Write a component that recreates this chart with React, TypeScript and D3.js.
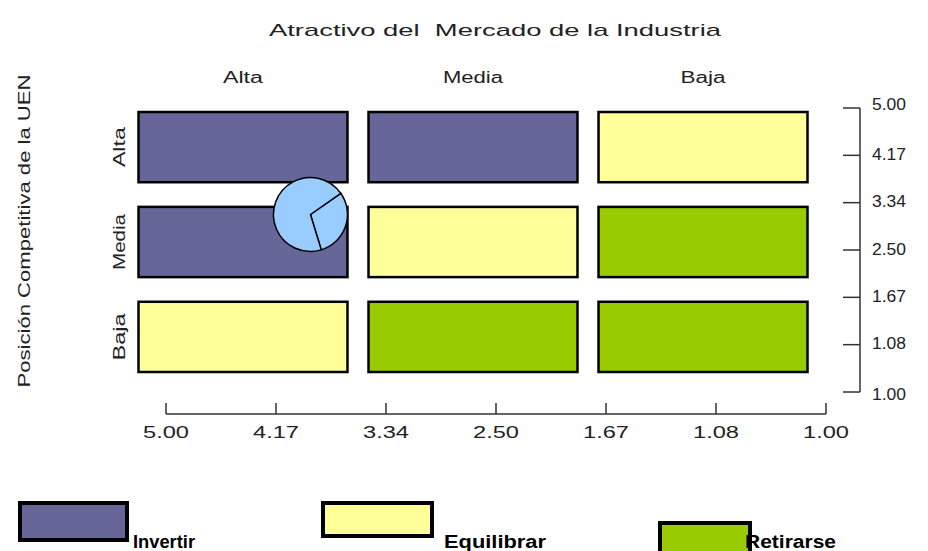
import React from 'react';
import * as d3 from 'd3';

const title = 'Atractivo del  Mercado de la Industria';
const yTitle = 'Posición Competitiva de la UEN';
const columns = ['Alta', 'Media', 'Baja'];
const rows = ['Alta', 'Media', 'Baja'];
const strategies = ['Invertir', 'Equilibrar', 'Retirarse'];
const strategyColors = ['#666699', '#ffff99', '#99cc00'];
const matrixAlta = ['Invertir', 'Invertir', 'Equilibrar'];
const matrixMedia = ['Invertir', 'Equilibrar', 'Retirarse'];
const matrixBaja = ['Equilibrar', 'Retirarse', 'Retirarse'];
const xTickLabels = ['5.00', '4.17', '3.34', '2.50', '1.67', '1.08', '1.00'];
const yTickLabels = ['5.00', '4.17', '3.34', '2.50', '1.67', '1.08', '1.00'];
const xTickValues = [5.0, 4.17, 3.34, 2.5, 1.67, 1.08, 1.0];
const yTickValues = [5.0, 4.17, 3.34, 2.5, 1.67, 1.08, 1.0];
const uenX = 3.91;
const uenY = 3.13;
const uenShares = [30, 70];

const headerWidths = [40, 60, 45];
const rowLabelWidths = [40, 56, 47];

export default function App() {
  const W = 928, H = 551;
  const matrix = [matrixAlta, matrixMedia, matrixBaja];
  const color = d3.scaleOrdinal<string, string>().domain(strategies).range(strategyColors);

  const col = d3.scaleBand<string>().domain(columns).range([138.5, 807.5]).paddingInner(0.0915);
  const row = d3.scaleBand<string>().domain(rows).range([112, 372]).paddingInner(0.26);

  const xPoint = d3.scalePoint<string>().domain(xTickLabels).range([166, 826]);
  const yPoint = d3.scalePoint<string>().domain(yTickLabels).range([108, 392]);
  const xVal = d3.scaleLinear().domain(xTickValues).range(xTickLabels.map(l => xPoint(l)!));
  const yVal = d3.scaleLinear().domain(yTickValues).range(yTickLabels.map(l => yPoint(l)!));

  const pie = d3.pie<number>().sort(null).startAngle((55 * Math.PI) / 180).endAngle((55 * Math.PI) / 180 + 2 * Math.PI);
  const arc = d3.arc<d3.PieArcDatum<number>>().innerRadius(0).outerRadius(37);
  const arcs = pie(uenShares);

  const font = "'Liberation Sans', Arial, sans-serif";
  const txt = '#222';

  const legendBoxX = [20, 323, 660];
  const legendBoxTop = [503, 503, 523];
  const legendBoxH = [37, 33, 32];
  const legendBoxW = [107, 109, 90];
  const legendTextX = [133, 444, 745];
  const legendTextW = [62, 102, 91];

  return (
    <svg width={W} height={H} style={{ position: 'absolute', left: 0, top: 0, background: '#fff' }}>
      <rect width={W} height={H} fill="#fff" />
      <text x={495} y={36} textAnchor="middle" fontFamily={font} fontSize={17} fill={txt}
        style={{ whiteSpace: 'pre' }} xmlSpace="preserve"
        textLength={452} lengthAdjust="spacingAndGlyphs">{title}</text>

      {columns.map((c, i) => (
        <text key={'h' + c} x={col(c)! + col.bandwidth() / 2} y={83} textAnchor="middle" fontFamily={font}
          fontSize={16} fill={txt} textLength={headerWidths[i]} lengthAdjust="spacingAndGlyphs">{c}</text>
      ))}

      <text transform={`translate(30,231) rotate(-90)`} textAnchor="middle" fontFamily={font} fontSize={16}
        fill={txt} textLength={313} lengthAdjust="spacingAndGlyphs">{yTitle}</text>

      {rows.map((r, i) => (
        <text key={'r' + r} transform={`translate(125,${row(r)! + row.bandwidth() / 2}) rotate(-90)`}
          textAnchor="middle" fontFamily={font} fontSize={16} fill={txt} textLength={rowLabelWidths[i]}
          lengthAdjust="spacingAndGlyphs">{r}</text>
      ))}

      {rows.map((r, ri) =>
        columns.map((c, ci) => (
          <rect key={r + c} x={col(c)!} y={row(r)!} width={col.bandwidth()} height={row.bandwidth()}
            fill={color(matrix[ri][ci])} stroke="#000" strokeWidth={2.5} />
        ))
      )}

      <g transform={`translate(${xVal(uenX)},${yVal(uenY)})`}>
        {arcs.map((a, i) => (
          <path key={i} d={arc(a)!} fill="#99ccff" stroke="#000" strokeWidth={1.5} strokeLinejoin="round" />
        ))}
      </g>

      {/* right axis */}
      <g stroke="#333" strokeWidth={1.5}>
        <line x1={860} x2={860} y1={yPoint(yTickLabels[0])!} y2={yPoint(yTickLabels[yTickLabels.length - 1])!} />
        {yTickLabels.map(l => (
          <line key={'yt' + l} x1={843} x2={860} y1={yPoint(l)!} y2={yPoint(l)!} />
        ))}
      </g>
      {yTickLabels.map((l, i) => (
        <text key={'yl' + l} x={872} y={yPoint(l)! + (i === 0 ? -4 : i === yTickLabels.length - 1 ? 2 : -1)} dy="0.35em" fontFamily={font} fontSize={16}
          fill={txt} textLength={34} lengthAdjust="spacingAndGlyphs">{l}</text>
      ))}

      {/* bottom axis */}
      <g stroke="#333" strokeWidth={1.5}>
        <line x1={xPoint(xTickLabels[0])!} x2={xPoint(xTickLabels[xTickLabels.length - 1])!} y1={414} y2={414} />
        {xTickLabels.map(l => (
          <line key={'xt' + l} x1={xPoint(l)!} x2={xPoint(l)!} y1={403} y2={414} />
        ))}
      </g>
      {xTickLabels.map(l => (
        <text key={'xl' + l} x={xPoint(l)!} y={438} textAnchor="middle" fontFamily={font} fontSize={17}
          fill={txt} textLength={46} lengthAdjust="spacingAndGlyphs">{l}</text>
      ))}

      {/* legend */}
      {strategies.map((s, i) => (
        <g key={'lg' + s}>
          <rect x={legendBoxX[i]} y={legendBoxTop[i]} width={legendBoxW[i]} height={legendBoxH[i]}
            fill={color(s)} stroke="#000" strokeWidth={4} />
          <text x={legendTextX[i]} y={548} fontFamily={font} fontWeight="bold" fontSize={18} fill="#000"
            textLength={legendTextW[i]} lengthAdjust="spacingAndGlyphs">{s}</text>
        </g>
      ))}
    </svg>
  );
}
